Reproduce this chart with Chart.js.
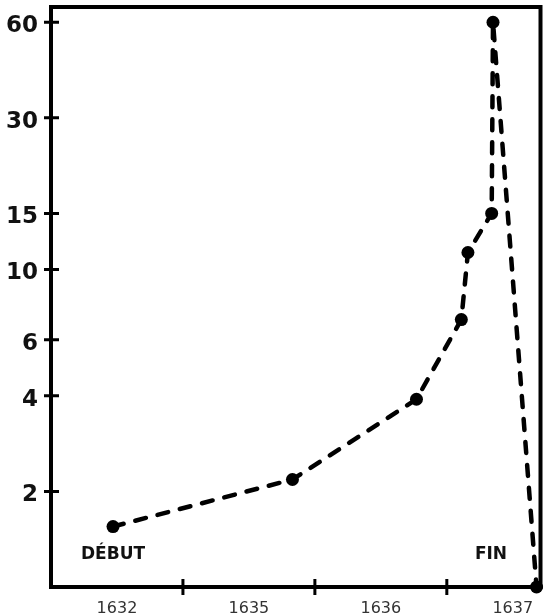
<!DOCTYPE html>
<html>
<head>
<meta charset="utf-8">
<script src="https://cdn.jsdelivr.net/npm/chart.js@4/dist/chart.umd.min.js"></script>
<style>
  html, body { margin: 0; padding: 0; background: #fff; }
  #wrap { width: 547px; height: 615px; }
</style>
</head>
<body>
<div id="wrap"><canvas id="tulip"></canvas></div>
<script>
// years shown under the axis, one per segment
var yearLabels = ["1632", "1635", "1636", "1637"];
var yearCenters = [0.5, 1.5, 2.5, 3.5];
var yearBreaks = [1, 2, 3];

// price index, log axis
var yTicks = [2, 4, 6, 10, 15, 30, 60];

// points (x = position in years segments)
var xs = [0.47, 1.83, 2.77, 3.11, 3.16, 3.34, 3.35, 3.68];
var ys = [1.55, 2.18, 3.9, 6.95, 11.3, 15.0, 60, 1.0];

var points = xs.map(function (x, i) {
    return { x: x, y: ys[i] };
});

var framePlugin = {
    id: "frame",
    afterDatasetsDraw: function (chart) {
        var ctx = chart.ctx;
        var a = chart.chartArea;
        var xScale = chart.scales.x;
        var yScale = chart.scales.y;
        ctx.save();
        ctx.strokeStyle = "#000";
        ctx.lineWidth = 4;
        ctx.strokeRect(a.left, a.top, a.right - a.left, a.bottom - a.top);

        ctx.lineWidth = 3;
        ctx.beginPath();
        yTicks.forEach(function (v) {
            var py = yScale.getPixelForValue(v);
            ctx.moveTo(a.left - 7, py);
            ctx.lineTo(a.left + 8, py);
        });
        yearBreaks.forEach(function (v) {
            var px = xScale.getPixelForValue(v);
            ctx.moveTo(px, a.bottom - 8);
            ctx.lineTo(px, a.bottom + 8);
        });
        ctx.stroke();

        // the last point sits on the frame corner
        var last = chart.getDatasetMeta(0).data[xs.length - 1];
        ctx.fillStyle = "#000";
        ctx.beginPath();
        ctx.arc(last.x, last.y, 6, 0, Math.PI * 2);
        ctx.fill();

        // start / end labels
        ctx.fillStyle = "#111";
        ctx.font = "bold 17px 'DejaVu Sans'";
        ctx.textAlign = "center";
        ctx.textBaseline = "middle";
        var ly = yScale.getPixelForValue(ys[0]) + 28;
        ctx.fillText("DÉBUT", xScale.getPixelForValue(xs[0]), ly);
        ctx.fillText("FIN", xScale.getPixelForValue(xs[6]) - 2, ly);
        ctx.restore();
    }
};

new Chart(document.getElementById("tulip"), {
    type: "line",
    data: {
        datasets: [{
            data: points,
            clip: false,
            borderColor: "#000",
            backgroundColor: "#000",
            borderWidth: 4.5,
            borderDash: [11, 12],
            borderCapStyle: "round",
            tension: 0,
            fill: false,
            pointRadius: 6.5,
            pointBorderWidth: 0,
            pointBackgroundColor: "#000"
        }]
    },
    plugins: [framePlugin],
    options: {
        responsive: true,
        maintainAspectRatio: false,
        animation: false,
        layout: { padding: { top: 7, right: 5, left: 0, bottom: 0 } },
        plugins: {
            legend: { display: false },
            tooltip: { enabled: false }
        },
        scales: {
            x: {
                type: "linear",
                min: 0,
                max: 3.71,
                grid: { display: false, drawTicks: false },
                border: { display: false },
                afterBuildTicks: function (scale) {
                    scale.ticks = yearCenters.map(function (v) { return { value: v }; });
                },
                afterFit: function (scale) {
                    scale.height = 28;
                    scale.paddingLeft = 0;
                    scale.paddingRight = 0;
                },
                ticks: {
                    autoSkip: false,
                    maxRotation: 0,
                    padding: 12,
                    color: "#333",
                    font: { family: "'DejaVu Sans'", size: 16 },
                    callback: function (v, i) { return yearLabels[i]; }
                }
            },
            y: {
                type: "logarithmic",
                min: 1.0,
                max: 67,
                grid: { display: false, drawTicks: false },
                border: { display: false },
                afterBuildTicks: function (scale) {
                    scale.ticks = yTicks.map(function (v) { return { value: v }; });
                },
                afterFit: function (scale) {
                    scale.width = 51;
                    scale.paddingTop = 0;
                    scale.paddingBottom = 0;
                },
                ticks: {
                    autoSkip: false,
                    padding: 13,
                    labelOffset: 4,
                    color: "#111",
                    font: { family: "'DejaVu Sans'", size: 23, weight: "bold" },
                    callback: function (v) { return String(v); }
                }
            }
        }
    }
});
</script>
</body>
</html>
